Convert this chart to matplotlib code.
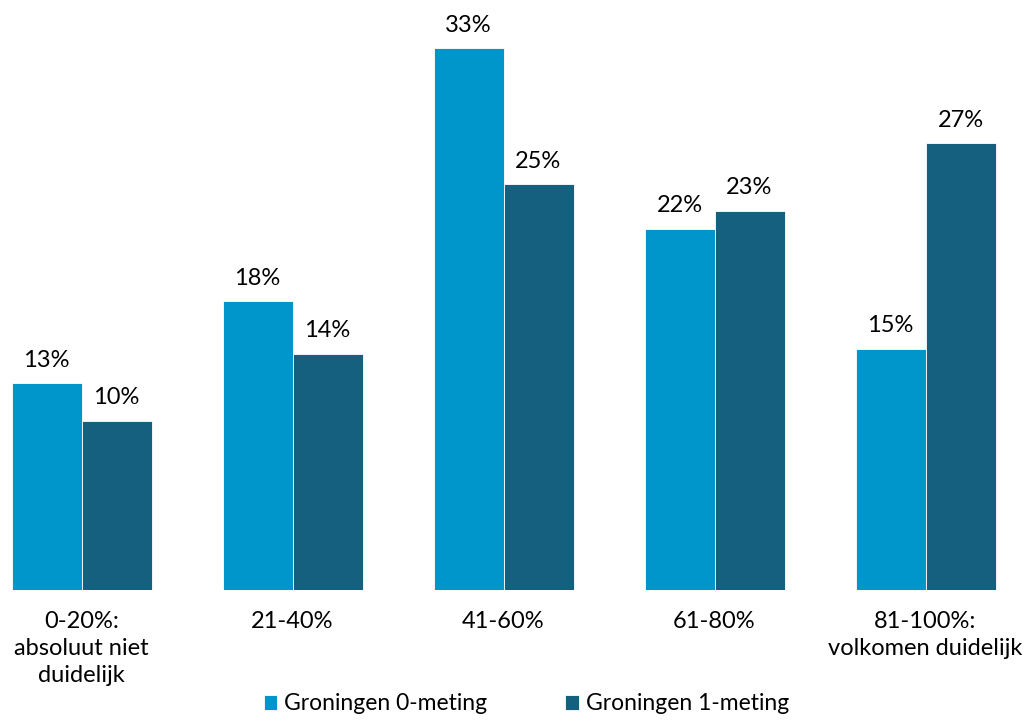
import matplotlib
matplotlib.use("Agg")
import matplotlib.pyplot as plt
import numpy as np

categories = ["0-20%:\nabsoluut niet\nduidelijk", "21-40%", "41-60%", "61-80%", "81-100%:\nvolkomen duidelijk"]
series_names = ["Groningen 0-meting", "Groningen 1-meting"]
meting0 = [12.6, 17.6, 33.0, 22.0, 14.7]
meting1 = [10.3, 14.4, 24.7, 23.1, 27.2]
colors = ["#0096CC", "#15607F"]

plt.rcParams['font.family'] = ['Lato', 'DejaVu Sans']

fig = plt.figure(figsize=(10.24, 7.22), dpi=100)
W, H = 1024, 722
base_px = 590
ax = fig.add_axes([-1 / W, (H - base_px) / H, 1, base_px / H])

x = np.arange(len(categories))
bw = 70 / 211
b0 = ax.bar(x - bw / 2, meting0, bw, color=colors[0], edgecolor="white", linewidth=0.6, label=series_names[0])
b1 = ax.bar(x + bw / 2, meting1, bw, color=colors[1], edgecolor="white", linewidth=0.6, label=series_names[1])

for bars, vals in ((b0, meting0), (b1, meting1)):
    for r, v in zip(bars, vals):
        ax.annotate(f"{v:.0f}%", (r.get_x() + r.get_width() / 2, v), xytext=(0, 9),
                    textcoords="offset points", ha="center", va="bottom", fontsize=17)

ax.set_xlim(-82.5 / 211, (W - 82.5) / 211)
ax.set_ylim(0, base_px / 16.42)
for s in ax.spines.values():
    s.set_visible(False)
ax.set_yticks([])
ax.set_xticks(x)
ax.set_xticklabels(categories, fontsize=17, linespacing=1.35)
ax.tick_params(axis="x", length=0, pad=15)

fig.legend(handles=[b0, b1], labels=series_names, loc="lower center", bbox_to_anchor=(0.514, -0.018),
           ncol=2, frameon=False, fontsize=16.5, handlelength=0.6, handleheight=0.6,
           handletextpad=0.3, columnspacing=3.4)

fig.savefig("out.png", dpi=100)
